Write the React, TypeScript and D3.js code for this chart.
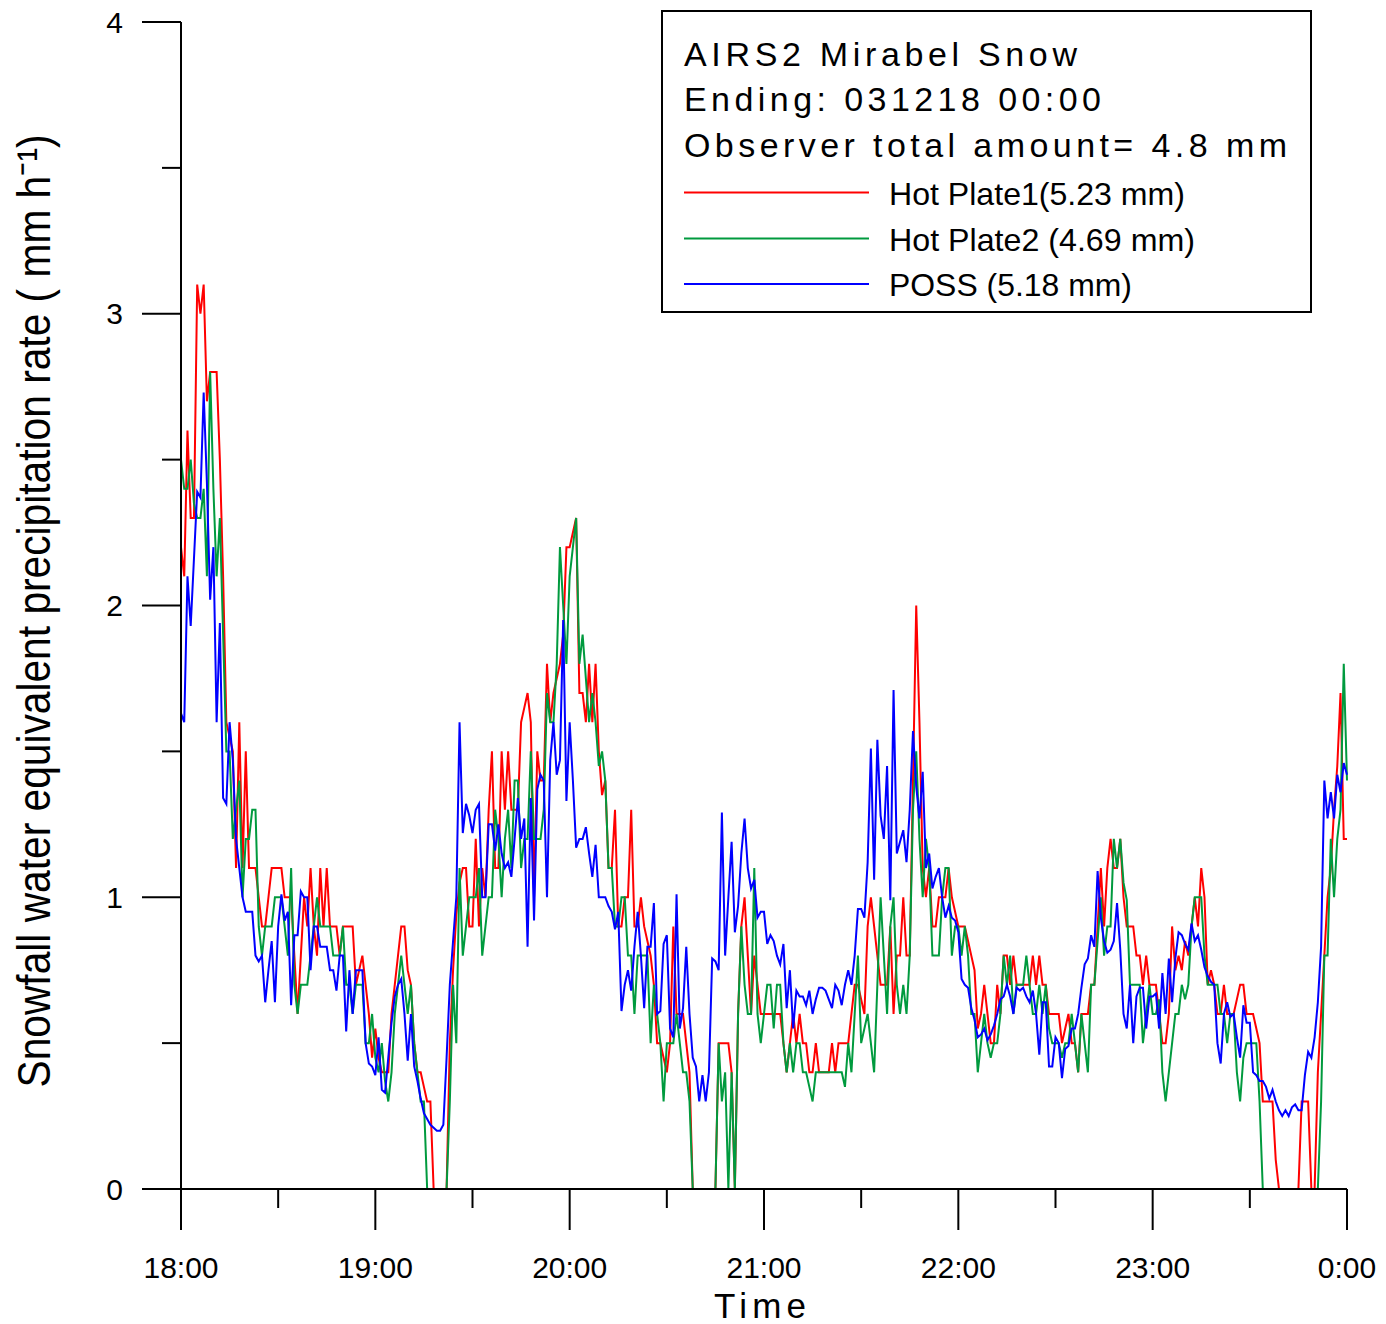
import React from "react";
import * as d3 from "d3";

// minutes after 18:00, one sample per minute (0..360)
const hotPlate1: number[] = [
  2.2,2.1,2.6,2.3,2.3,3.1,3.0,3.1,2.7,2.8,
  2.8,2.8,2.5,2.1,1.6,1.55,1.5,1.1,1.6,1.1,
  1.5,1.1,1.1,1.1,1.0,0.9,0.9,1.0,1.1,1.1,
  1.1,1.1,1.0,1.0,1.0,0.8,0.6,0.8,1.0,0.9,
  1.1,0.9,0.8,1.1,0.9,1.1,0.9,0.9,0.9,0.8,
  0.9,0.9,0.9,0.9,0.7,0.75,0.8,0.7,0.6,0.45,
  0.55,0.45,0.4,0.4,0.4,0.6,0.7,0.8,0.9,0.9,
  0.75,0.7,0.5,0.4,0.4,0.35,0.3,0.3,0,0,
  0,0,0,0.5,0.75,0.94,1.05,1.1,1.1,0.9,
  0.9,1.2,0.9,1.1,1.0,1.3,1.5,1.1,1.1,1.5,
  1.3,1.5,1.3,1.3,1.3,1.6,1.65,1.7,1.6,1.0,
  1.5,1.4,1.4,1.8,1.6,1.7,1.75,1.8,1.9,2.2,
  2.2,2.25,2.3,1.7,1.7,1.6,1.8,1.6,1.8,1.5,
  1.35,1.4,1.1,1.1,1.3,0.9,0.9,1.0,1.0,1.3,
  0.9,0.9,1.0,0.9,0.85,0.8,0.7,0.5,0.5,0.45,
  0.4,0.5,0.9,0.6,0.6,0.6,0.5,0.4,0,0,
  0,0,0,0,0,0,0.5,0.5,0.5,0.5,
  0.4,0,0.6,0.9,1.0,0.8,0.6,0.8,0.7,0.6,
  0.6,0.6,0.6,0.6,0.6,0.6,0.5,0.4,0.5,0.6,
  0.5,0.6,0.5,0.5,0.4,0.4,0.5,0.4,0.4,0.4,
  0.4,0.5,0.4,0.5,0.5,0.5,0.5,0.6,0.7,0.7,
  0.65,0.6,0.9,1.0,0.9,0.8,0.7,0.7,0.7,0.9,
  0.6,0.8,0.8,1.0,0.8,0.8,1.4,2.0,1.6,1.1,
  1.0,1.1,0.9,0.9,1.0,1.0,1.0,1.1,1.0,0.95,
  0.9,0.9,0.9,0.85,0.8,0.75,0.55,0.6,0.7,0.6,
  0.5,0.5,0.7,0.6,0.8,0.8,0.7,0.8,0.7,0.7,
  0.7,0.7,0.7,0.8,0.7,0.8,0.7,0.7,0.6,0.6,
  0.6,0.6,0.5,0.55,0.6,0.5,0.5,0.4,0.6,0.6,
  0.6,0.7,0.7,0.9,1.1,0.9,1.1,1.2,1.1,1.1,
  1.2,1.0,0.9,0.9,0.9,0.8,0.8,0.7,0.8,0.7,
  0.7,0.7,0.6,0.5,0.5,0.6,0.9,0.75,0.8,0.75,
  0.85,0.8,0.9,1.0,0.9,1.1,1.0,0.7,0.75,0.7,
  0.6,0.6,0.7,0.6,0.6,0.6,0.65,0.7,0.7,0.6,
  0.6,0.6,0.55,0.5,0.3,0.3,0.3,0.3,0.1,0,
  0,0,0,0,0,0,0.3,0.3,0.3,0,
  0,0.4,0.6,0.8,1.0,1.1,1.3,1.45,1.7,1.2,
  1.2,
];

const hotPlate2: number[] = [
  2.5,2.4,2.4,2.5,2.35,2.3,2.3,2.4,2.1,2.8,
  2.4,2.1,2.3,1.9,1.5,1.5,1.2,1.3,1.4,1.0,
  1.2,1.2,1.3,1.3,0.9,0.8,0.9,0.9,0.9,1.0,
  1.0,1.0,0.9,0.8,1.1,0.7,0.6,0.7,0.7,0.7,
  0.8,0.9,1.0,0.9,0.9,0.9,0.9,0.8,0.8,0.8,
  0.9,0.7,0.7,0.6,0.7,0.7,0.7,0.5,0.5,0.6,
  0.45,0.4,0.5,0.37,0.3,0.4,0.6,0.7,0.8,0.7,
  0.6,0.7,0.5,0.4,0.3,0.3,0,0,0,0,
  0,0,0,0.3,0.7,0.5,1.1,0.8,0.9,1.0,
  1.0,1.0,1.1,0.8,0.9,1.0,1.0,1.3,1.2,1.0,
  1.2,1.3,1.1,1.4,1.4,1.1,1.2,1.2,1.5,1.2,
  1.2,1.2,1.3,1.7,1.6,1.6,1.8,2.2,2.0,1.8,
  2.1,2.2,2.3,1.8,1.9,1.75,1.6,1.7,1.6,1.45,
  1.5,1.4,1.1,1.1,0.9,0.9,1.0,1.0,0.8,0.8,
  0.6,0.8,0.8,0.8,0.8,0.5,0.7,0.6,0.5,0.3,
  0.5,0.5,0.5,0.6,0.5,0.4,0.4,0.3,0,0,
  0,0,0,0,0,0,0.5,0.3,0.4,0,
  0.4,0,0.6,0.9,0.7,0.6,0.6,1.1,0.6,0.5,
  0.6,0.7,0.7,0.55,0.7,0.7,0.5,0.4,0.5,0.4,
  0.5,0.5,0.4,0.4,0.35,0.3,0.4,0.4,0.4,0.4,
  0.4,0.4,0.4,0.4,0.4,0.35,0.5,0.4,0.6,0.8,
  0.5,0.55,0.6,0.5,0.4,0.7,1.0,0.8,0.6,0.9,
  1.0,0.7,0.6,0.7,0.6,0.8,1.3,1.5,1.2,1.0,
  1.2,1.1,0.8,0.8,0.8,1.0,1.1,1.1,0.8,0.9,
  0.9,0.8,0.9,0.8,0.6,0.6,0.4,0.5,0.6,0.5,
  0.45,0.5,0.5,0.6,0.8,0.7,0.8,0.6,0.7,0.7,
  0.7,0.8,0.7,0.6,0.6,0.7,0.6,0.7,0.55,0.5,
  0.5,0.5,0.45,0.5,0.5,0.6,0.5,0.4,0.6,0.5,
  0.4,0.7,0.7,0.85,1.0,0.8,0.9,0.9,1.2,1.1,
  1.2,1.05,0.99,0.7,0.7,0.7,0.7,0.5,0.6,0.7,
  0.6,0.6,0.65,0.4,0.3,0.4,0.5,0.6,0.6,0.7,
  0.65,0.7,0.9,1.0,1.0,1.0,0.8,0.7,0.7,0.7,
  0.7,0.6,0.6,0.5,0.6,0.6,0.4,0.3,0.45,0.5,
  0.5,0.5,0.5,0.3,0,0,0,0,0,0,
  0,0,0,0,0,0,0,0,0,0,
  0,0,0.3,0.8,0.8,1.2,1.0,1.2,1.3,1.8,
  1.4,
];

const poss: number[] = [
  1.63,1.6,2.1,1.93,2.16,2.39,2.37,2.73,2.42,2.02,
  2.2,1.6,1.94,1.34,1.32,1.6,1.47,1.2,1.1,1.0,
  0.95,0.95,0.95,0.8,0.78,0.8,0.64,0.75,0.85,0.64,
  0.9,1.01,0.92,0.95,0.63,0.87,0.87,1.02,1.0,1.0,
  0.75,0.9,0.9,0.83,0.83,0.83,0.75,0.75,0.68,0.8,
  0.8,0.54,0.75,0.6,0.75,0.75,0.75,0.5,0.43,0.42,
  0.39,0.52,0.34,0.33,0.45,0.57,0.66,0.7,0.72,0.6,
  0.44,0.6,0.42,0.37,0.31,0.26,0.24,0.22,0.21,0.2,
  0.2,0.22,0.45,0.7,0.85,1.0,1.6,1.22,1.32,1.28,
  1.22,1.3,1.32,1.0,1.0,1.25,1.25,1.16,1.25,1.15,
  1.1,1.12,1.07,1.2,1.34,1.2,1.27,0.83,1.34,0.92,
  1.37,1.42,1.4,1.0,1.47,1.6,1.42,1.47,1.95,1.33,
  1.6,1.4,1.17,1.2,1.2,1.24,1.15,1.07,1.18,1.0,
  1.0,1.0,0.97,0.95,0.89,0.95,0.61,0.7,0.75,0.68,
  0.83,0.95,0.8,0.62,0.83,0.83,0.98,0.6,0.61,0.84,
  0.87,0.55,0.52,1.01,0.55,0.62,0.83,0.6,0.45,0.42,
  0.3,0.39,0.3,0.4,0.79,0.78,0.75,1.29,0.8,1.0,
  1.19,0.88,0.97,1.15,1.27,1.1,1.03,1.06,0.93,0.95,
  0.95,0.84,0.87,0.85,0.8,0.77,0.84,0.62,0.75,0.55,
  0.68,0.66,0.66,0.63,0.68,0.6,0.65,0.69,0.69,0.68,
  0.65,0.62,0.7,0.68,0.63,0.7,0.75,0.7,0.8,0.96,
  0.96,0.93,1.12,1.51,1.06,1.54,1.28,1.2,1.45,0.99,
  1.71,1.15,1.19,1.23,1.12,1.3,1.57,1.38,1.27,1.43,
  1.1,1.15,1.03,1.07,1.1,1.0,0.93,0.97,0.93,0.92,
  0.88,0.72,0.7,0.69,0.62,0.58,0.52,0.53,0.55,0.51,
  0.53,0.56,0.6,0.65,0.66,0.7,0.66,0.6,0.69,0.68,
  0.69,0.66,0.64,0.68,0.6,0.46,0.64,0.64,0.42,0.42,
  0.52,0.5,0.38,0.48,0.49,0.55,0.55,0.6,0.69,0.77,
  0.79,0.87,0.83,1.09,0.93,0.85,0.81,0.82,0.85,0.98,
  0.82,0.6,0.55,0.7,0.5,0.66,0.69,0.69,0.55,0.66,
  0.66,0.67,0.55,0.74,0.6,0.79,0.64,0.79,0.88,0.87,
  0.84,0.82,0.91,0.85,0.87,0.82,0.76,0.73,0.71,0.7,
  0.5,0.43,0.6,0.64,0.59,0.6,0.52,0.45,0.63,0.57,
  0.57,0.4,0.39,0.37,0.37,0.35,0.31,0.34,0.3,0.27,
  0.25,0.27,0.25,0.28,0.29,0.27,0.27,0.39,0.47,0.45,
  0.52,0.64,0.83,1.4,1.27,1.36,1.27,1.42,1.36,1.46,
  1.42,
];

const hourLabels: string[] = ["18:00", "19:00", "20:00", "21:00", "22:00", "23:00", "0:00"];
const yTickValues: number[] = [0, 1, 2, 3, 4];
const titleLines: string[] = [
  "AIRS2 Mirabel Snow",
  "Ending: 031218 00:00",
  "Observer total amount= 4.8 mm",
];
const seriesNames: string[] = ["Hot Plate1(5.23 mm)", "Hot Plate2 (4.69 mm)", "POSS (5.18 mm)"];
const seriesColors: string[] = ["#ff0000", "#009a3e", "#0000ff"];

const FONT = "'Liberation Sans', Arial, Helvetica, sans-serif";

export default function App() {
  const W = 1386;
  const H = 1324;
  const x = d3.scaleLinear().domain([0, 360]).range([181, 1347]);
  const y = d3.scaleLinear().domain([0, 4]).range([1189, 22]);

  const line = d3
    .line<number>()
    .x((_, i) => x(i))
    .y((d) => y(d));

  const series = [hotPlate1, hotPlate2, poss];

  const majorX = d3.range(0, 361, 60);
  const minorX = d3.range(30, 360, 60);
  const minorY = [0.5, 1.5, 2.5, 3.5];

  const titleWidths = [393, 417, 603];
  const titleBase = [66, 111, 157];
  const entryWidths = [296, 306, 243];
  const entryBase = [205, 251, 296];
  const entryLineY = [192.5, 238.5, 284];

  return (
    <div style={{ position: "absolute", left: 0, top: 0 }}>
      <svg width={W} height={H} style={{ display: "block", background: "#fff" }} fontFamily={FONT}>
        <rect x={0} y={0} width={W} height={H} fill="#fff" />

        {/* data lines */}
        {series.map((s, k) => (
          <path
            key={k}
            d={line(s) || ""}
            fill="none"
            stroke={seriesColors[k]}
            strokeWidth={2}
            strokeLinejoin="miter"
          />
        ))}

        {/* axes */}
        <line x1={181} y1={y(4)} x2={181} y2={y(0)} stroke="#000" strokeWidth={2} />
        <line x1={142} y1={y(0)} x2={1347} y2={y(0)} stroke="#000" strokeWidth={2} />
        {yTickValues.map((v) => (
          <g key={"yt" + v}>
            <line x1={142} x2={181} y1={y(v)} y2={y(v)} stroke="#000" strokeWidth={2} />
            <text x={123} y={y(v) + 10.5} fontSize={30} textAnchor="end" fill="#000">
              {v}
            </text>
          </g>
        ))}
        {minorY.map((v) => (
          <line key={"ym" + v} x1={162} x2={181} y1={y(v)} y2={y(v)} stroke="#000" strokeWidth={2} />
        ))}
        {majorX.map((m, i) => (
          <g key={"xt" + m}>
            <line x1={x(m)} x2={x(m)} y1={y(0)} y2={1230} stroke="#000" strokeWidth={2} />
            <text x={x(m)} y={1278} fontSize={30} textAnchor="middle" fill="#000">
              {hourLabels[i]}
            </text>
          </g>
        ))}
        {minorX.map((m) => (
          <line key={"xm" + m} x1={x(m)} x2={x(m)} y1={y(0)} y2={1208} stroke="#000" strokeWidth={2} />
        ))}

        {/* axis titles */}
        <text x={760} y={1318} fontSize={35} textAnchor="middle" textLength={92} lengthAdjust="spacing" fill="#000">
          Time
        </text>
        <text
          transform="translate(50,611) rotate(-90)"
          x={0}
          y={0}
          fontSize={46}
          textAnchor="middle"
          textLength={953}
          lengthAdjust="spacingAndGlyphs"
          fill="#000"
        >
          Snowfall water equivalent precipitation rate ( mm h⁻¹)
        </text>

        {/* legend */}
        <rect x={662} y={11} width={649} height={301} fill="#fff" stroke="#000" strokeWidth={2} />
        {titleLines.map((t, i) => (
          <text
            key={"tl" + i}
            x={684}
            y={titleBase[i]}
            fontSize={34}
            textLength={titleWidths[i]}
            lengthAdjust="spacing"
            fill="#000"
          >
            {t}
          </text>
        ))}
        {seriesNames.map((n, i) => (
          <g key={"lg" + i}>
            <line x1={684} x2={869} y1={entryLineY[i]} y2={entryLineY[i]} stroke={seriesColors[i]} strokeWidth={2} />
            <text
              x={889}
              y={entryBase[i]}
              fontSize={32}
              textLength={entryWidths[i]}
              lengthAdjust="spacingAndGlyphs"
              fill="#000"
            >
              {n}
            </text>
          </g>
        ))}
      </svg>
    </div>
  );
}
